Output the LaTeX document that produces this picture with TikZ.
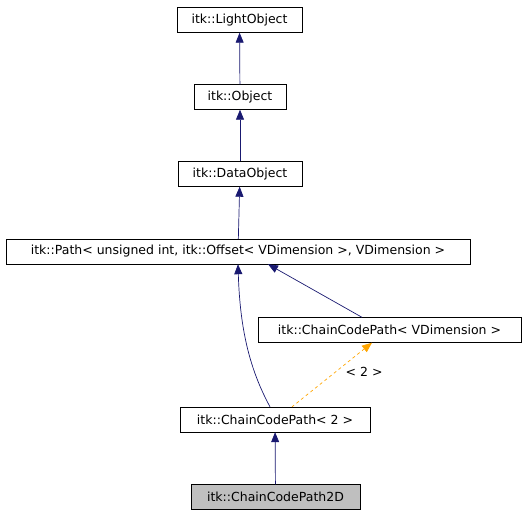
\documentclass[tikz,border=0pt]{standalone}
\usepackage{fontspec}
\setmainfont{DejaVu Sans}
\usetikzlibrary{arrows.meta}
\definecolor{navy}{RGB}{25,25,112}
\definecolor{tmpl}{RGB}{255,165,0}
\tikzset{
  cls/.style={draw=black, fill=white, inner sep=0pt, font=\fontsize{12.5}{14}\selectfont,
              minimum height=25pt},
  self/.style={cls, fill=black!25},
  inherit/.style={{Triangle[length=10pt,width=8pt]}-, navy, line width=0.7pt},
  inst/.style={{Triangle[length=10pt,width=8pt]}-, tmpl, line width=0.7pt, dashed},
}

\begin{document}
\begin{tikzpicture}[x=1pt, y=-1pt]
  \useasboundingbox (0,0) rectangle (527,515);
  \node[cls, minimum width=125pt] (light) at (239.5,20) {itk::LightObject};
  \node[cls, minimum width=92pt] (obj) at (240,97) {itk::Object};
  \node[cls, minimum width=124pt] (data) at (240,174) {itk::DataObject};
  \node[cls, minimum width=464pt] (path) at (238,251.5) {itk::Path< unsigned int, itk::Offset< VDimension >, VDimension >};
  \node[cls, minimum width=263pt] (ccpv) at (389.5,330) {itk::ChainCodePath< VDimension >};
  \node[cls, minimum width=190pt] (ccp2) at (275,419.5) {itk::ChainCodePath< 2 >};
  \node[self, minimum width=169pt] (ccp2d) at (275.5,497) {itk::ChainCodePath2D};
  % inheritance
  \draw[inherit] (light) -- (obj);
  \draw[inherit] (obj) -- (data);
  \draw[inherit] (data) -- (path);
  \draw[inherit] (path.south -| 238,0) .. controls (240,330) and (250,370) .. (ccp2.north -| 270,0);
  \draw[inherit] (path.south -| 268,0) -- (ccpv.north -| 362,0);
  \draw[inherit] (ccp2) -- (ccp2d);
  % template instance
  \draw[inst] (ccpv.south -| 372,0) -- (ccp2.north -| 292,0)
    node[pos=0.45, right=6pt, text=black, font=\fontsize{12.5}{14}\selectfont] (arg) {< 2 >};
\end{tikzpicture}
\end{document}
